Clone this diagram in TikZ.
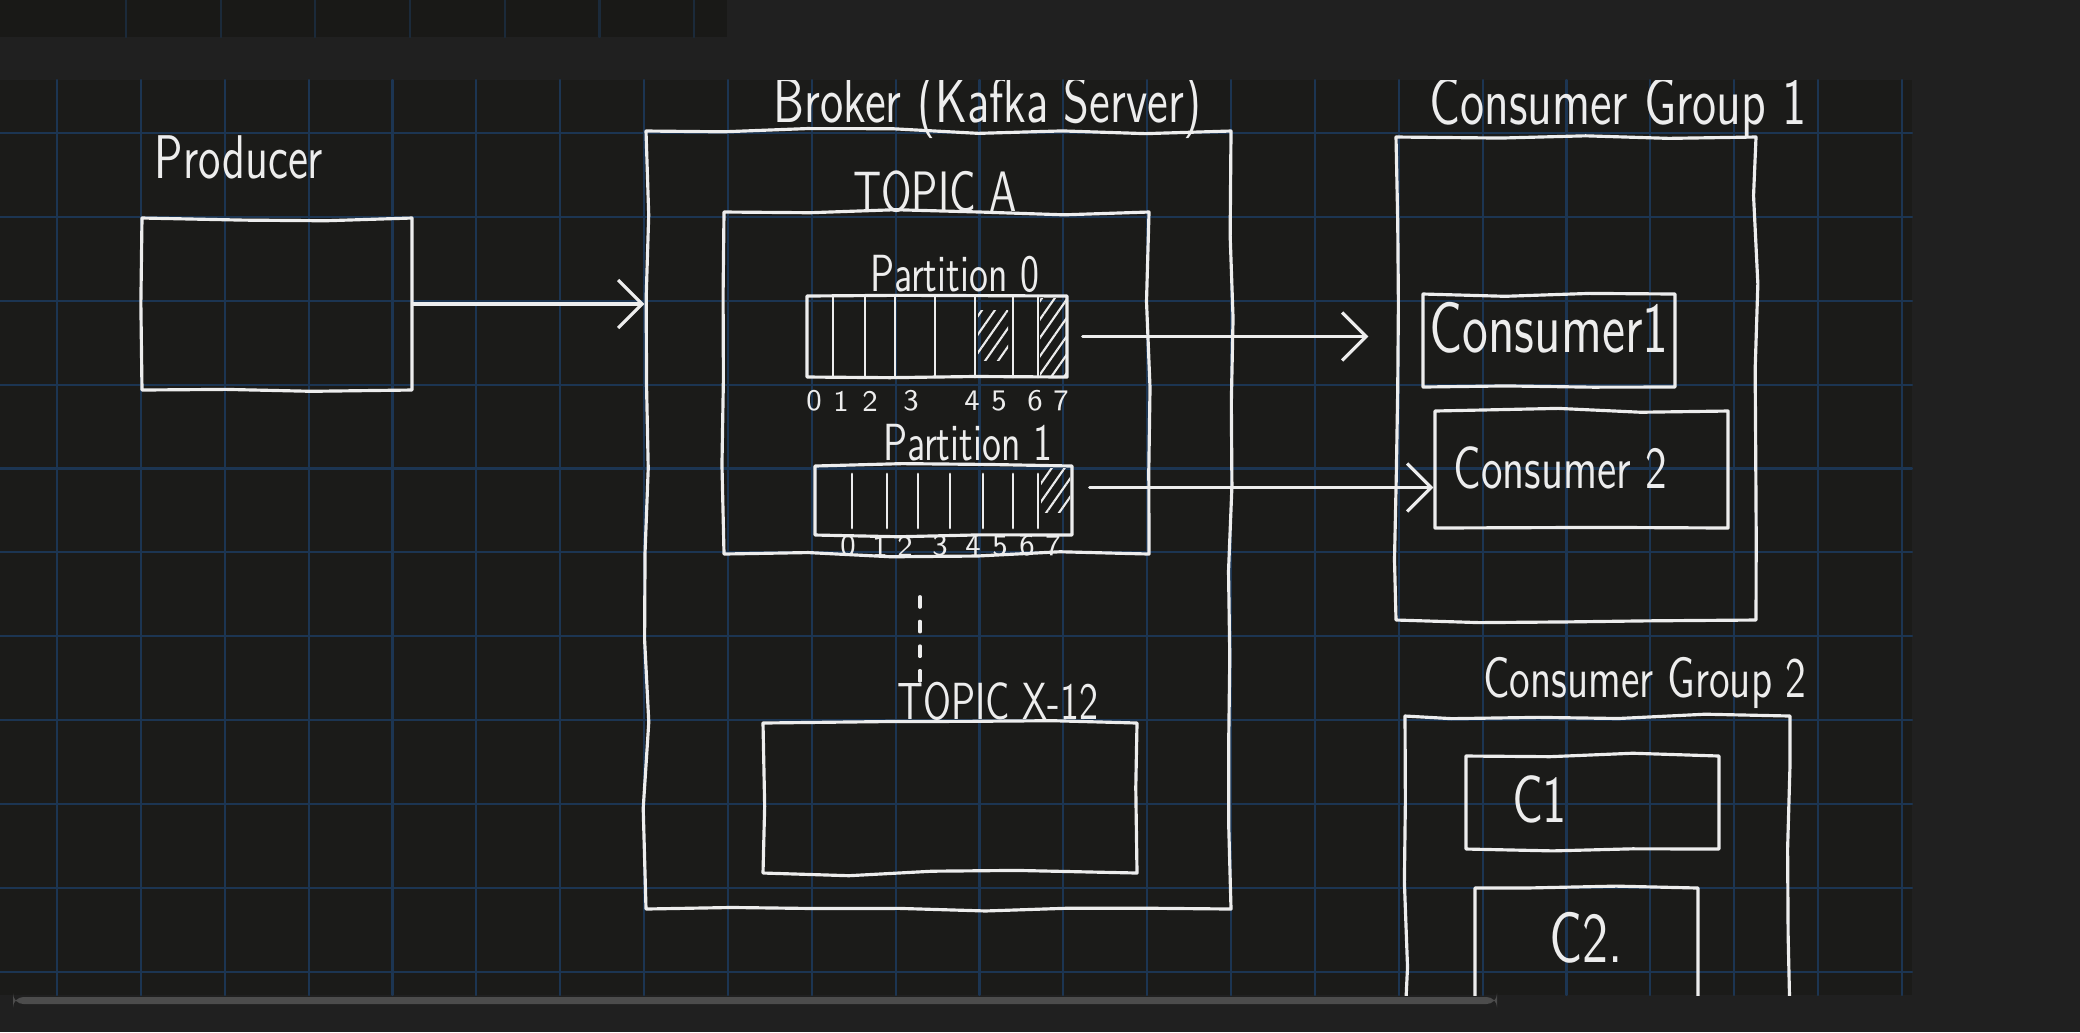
\documentclass[tikz,border=0pt]{standalone}
\usepackage{fontspec}
\usepackage{tikz}
\usetikzlibrary{arrows.meta,fit,patterns.meta,decorations.pathmorphing}
\definecolor{pagebg}{HTML}{202020}
\definecolor{canvasbg}{HTML}{1B1B19}
\definecolor{stripbg}{HTML}{191917}
\definecolor{gridblue}{HTML}{1C3552}
\definecolor{ink}{HTML}{EDEDED}
\definecolor{scrollgrey}{HTML}{4C4C4C}
\newcommand{\tall}[1]{\scalebox{1}[1.35]{#1}}
\pgfmathsetseed{7}

\begin{document}
\begin{tikzpicture}[line cap=round,line join=round,>={Straight Barb[length=2.4mm,width=4.8mm]},x=0.01cm,y=-0.01cm,
	ink line/.style={draw=ink,line width=0.9pt},
	box/.style={ink line,inner sep=0pt,decorate,decoration={random steps,segment length=24pt,amplitude=0.8pt}},
	hand/.style={text=ink,inner sep=0pt,font=\sffamily\fontsize{#1}{#1}\selectfont},
	hand/.default=12,
	gridline/.style={draw=gridblue,line width=0.6pt},
	cell/.style={ink line,line width=0.8pt},
	hatch/.style={pattern={Lines[angle=55,distance=3pt,line width=0.6pt]},pattern color=ink},
	flow/.style={ink line,->}]
	\useasboundingbox (0,0) rectangle (2080,1032);
	\fill[pagebg] (0,0) rectangle (2080,1032);
	\fill[stripbg] (0,0) rectangle (727,37);
	\foreach \i in {0,...,6}
		\draw[gridline,draw=gridblue!60!stripbg] ({126+94.7*\i},0) -- ({126+94.7*\i},37);
	\fill[canvasbg] (0,80) rectangle (1912,995);
	\foreach \i in {0,...,22}
		\draw[gridline] ({57+83.86*\i},80) -- ({57+83.86*\i},995);
	\foreach \j in {0,...,10}
		\draw[gridline] (0,{133+83.86*\j}) -- (1912,{133+83.86*\j});
	\fill[scrollgrey,rounded corners=3pt] (13,997) rectangle (1497,1004);

	\begin{scope}
	\clip (0,80) rectangle (1912,995);
	\node[hand=13] (producerlbl) at (239,157) {\tall{Producer}};
	\node[box,fit={(142,218)(412,390)}] (producer) {};

	\node[hand=13.5] (brokerlbl) at (988,106) {\tall{Broker (Kafka Server)}};
	\node[box,fit={(646,131)(1231,909)}] (broker) {};
	\node[hand=12] (topicAlbl) at (935,192) {\tall{TOPIC A}};
	\node[box,fit={(724,212)(1149,554)}] (topicA) {};

	\node[hand=11] (part0lbl) at (955,274) {\tall{Partition 0}};
	\fill[hatch] (978,310) rectangle (1008,360);
	\fill[hatch] (1040,298) rectangle (1066,376);
	\node[box,fit={(807,296)(1067,377)}] (part0) {};
	\foreach \x in {833,865,895,935,975,1013,1038}
		\draw[cell] (\x,296) -- (\x,377);
	\foreach \x/\n in {814/0,841/1,870/2,911/3,972/4,999/5,1035/6,1061/7}
		\node[hand=8.5] (pzero\n) at (\x,401) {\n};

	\node[hand=11] (part1lbl) at (968,443) {\tall{Partition 1}};
	\fill[hatch] (1041,468) rectangle (1070,512);
	\node[box,fit={(815,466)(1072,535)}] (part1) {};
	\foreach \x in {852,887,918,950,983,1013,1038}
		\draw[cell] (\x,474) -- (\x,528);
	\foreach \x/\n in {848/0,880/1,905/2,940/3,973/4,1000/5,1027/6,1053/7}
		\node[hand=8.5] (pone\n) at (\x,546) {\n};

	\node[hand=11] (topicXlbl) at (998,701) {\tall{TOPIC X-12}};
	\node[box,fit={(763,723)(1137,873)}] (topicX) {};
	\draw[ink line,dash pattern=on 3pt off 4pt,shorten >=0.38cm] ([xshift=-0.78cm]topicXlbl.north) -- ([xshift=-0.78cm]topicXlbl.north |- topicA.south);

	\node[hand=14] (cg1lbl) at (1618,108) {\tall{Consumer Group 1}};
	\node[box,fit={(1396,137)(1756,620)}] (cgroup1) {};
	\node[box,fit={(1423,294)(1675,387)},label={[hand=15,yshift=0.13cm]center:\tall{Consumer1}}] (cons1) {};
	\node[box,fit={(1435,411)(1728,528)},label={[hand=12.5,xshift=-0.21cm,yshift=0.02cm]center:\tall{Consumer 2}}] (cons2) {};

	\node[hand=12] (cg2lbl) at (1645,683) {\tall{Consumer Group 2}};
	\node[box,fit={(1405,716)(1790,1020)}] (cgroup2) {};
	\node[box,fit={(1466,756)(1719,849)},label={[hand=14,xshift=-0.53cm,yshift=0.03cm]center:\tall{C1}}] (cone) {};
	\node[box,fit={(1475,888)(1698,1010)},label={[hand=15,yshift=0.11cm]center:\tall{C2.}}] (ctwo) {};

	\draw[flow] (producer.east) -- (producer.east -| broker.west);
	\draw[flow,shorten <=0.14cm,shorten >=0.53cm] (part0.east) -- (part0.east -| cons1.west);
	\draw[flow,shorten <=0.16cm] ([yshift=0.13cm]part1.east) -- ([yshift=0.13cm]part1.east -| cons2.west);
	\end{scope}
\end{tikzpicture}
\end{document}
